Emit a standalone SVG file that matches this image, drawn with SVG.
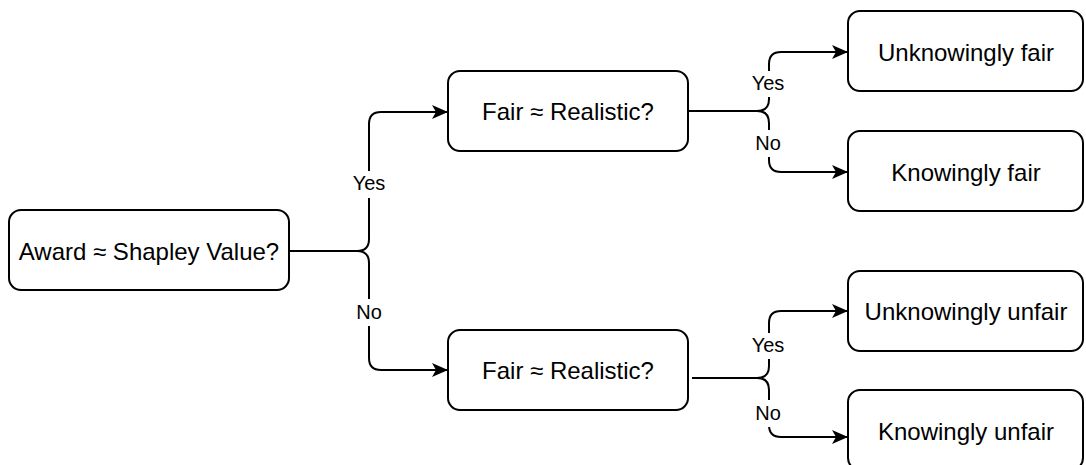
<svg xmlns="http://www.w3.org/2000/svg" width="1086" height="465" viewBox="0 0 1086 465">
  <style>
    .box { fill: #ffffff; stroke: #000000; stroke-width: 2; }
    .txt { font-family: "Liberation Sans", Arial, sans-serif; font-size: 24px; fill: #000000; text-anchor: middle; }
    .lbl { font-family: "Liberation Sans", Arial, sans-serif; font-size: 20px; fill: #000000; text-anchor: middle; }
    .edge { fill: none; stroke: #000000; stroke-width: 2; marker-end: url(#arrow); }
    .lblbg { fill: #ffffff; }
  </style>
  <defs>
    <marker id="arrow" markerUnits="userSpaceOnUse" markerWidth="18" markerHeight="16" refX="16" refY="8" orient="auto">
      <path d="M0,1 L16,8 L0,15 L4,8 z" fill="#000000"/>
    </marker>
  </defs>
  <rect width="1086" height="465" fill="#ffffff"/>

  <g id="connectors">
    <path class="edge" d="M289,251 H357 Q369,251 369,239 V124 Q369,112 381,112 H448"/>
    <path class="edge" d="M289,251 H357 Q369,251 369,263 V358 Q369,370 381,370 H448"/>
    <path class="edge" d="M688,111 H757 Q769,111 769,99 V64 Q769,52 781,52 H848"/>
    <path class="edge" d="M688,111 H757 Q769,111 769,123 V160 Q769,172 781,172 H848"/>
    <path class="edge" d="M692,378 H757 Q769,378 769,366 V323 Q769,311 781,311 H848"/>
    <path class="edge" d="M692,378 H757 Q769,378 769,390 V425 Q769,437 781,437 H848"/>
    <g id="edge-labels">
      <rect class="lblbg" x="350" y="171" width="38" height="27"/>
      <text class="lbl" x="369" y="190">Yes</text>
      <rect class="lblbg" x="354" y="299" width="30" height="27"/>
      <text class="lbl" x="369" y="319">No</text>
      <rect class="lblbg" x="749" y="71" width="38" height="26"/>
      <text class="lbl" x="768" y="90">Yes</text>
      <rect class="lblbg" x="754" y="130" width="30" height="27"/>
      <text class="lbl" x="768" y="150">No</text>
      <rect class="lblbg" x="749" y="333" width="38" height="26"/>
      <text class="lbl" x="768" y="352">Yes</text>
      <rect class="lblbg" x="754" y="400" width="30" height="27"/>
      <text class="lbl" x="768" y="420">No</text>
    </g>
  </g>

  <g id="node-root">
    <rect class="box" x="9" y="210" width="280" height="80" rx="12" ry="12"/>
    <text class="txt" x="149" y="260">Award ≈ Shapley Value?</text>
  </g>
  <g id="node-fair1">
    <rect class="box" x="448" y="71" width="240" height="80" rx="12" ry="12"/>
    <text class="txt" x="568" y="120">Fair ≈ Realistic?</text>
  </g>
  <g id="node-fair2">
    <rect class="box" x="448" y="330" width="240" height="80" rx="12" ry="12"/>
    <text class="txt" x="568" y="379">Fair ≈ Realistic?</text>
  </g>
  <g id="node-unknowingly-fair">
    <rect class="box" x="848" y="11" width="235" height="80" rx="12" ry="12"/>
    <text class="txt" x="966" y="61">Unknowingly fair</text>
  </g>
  <g id="node-knowingly-fair">
    <rect class="box" x="848" y="131" width="235" height="80" rx="12" ry="12"/>
    <text class="txt" x="966" y="181">Knowingly fair</text>
  </g>
  <g id="node-unknowingly-unfair">
    <rect class="box" x="848" y="271" width="235" height="80" rx="12" ry="12"/>
    <text class="txt" x="966" y="320">Unknowingly unfair</text>
  </g>
  <g id="node-knowingly-unfair">
    <rect class="box" x="848" y="390" width="235" height="80" rx="12" ry="12"/>
    <text class="txt" x="966" y="440">Knowingly unfair</text>
  </g>
</svg>
